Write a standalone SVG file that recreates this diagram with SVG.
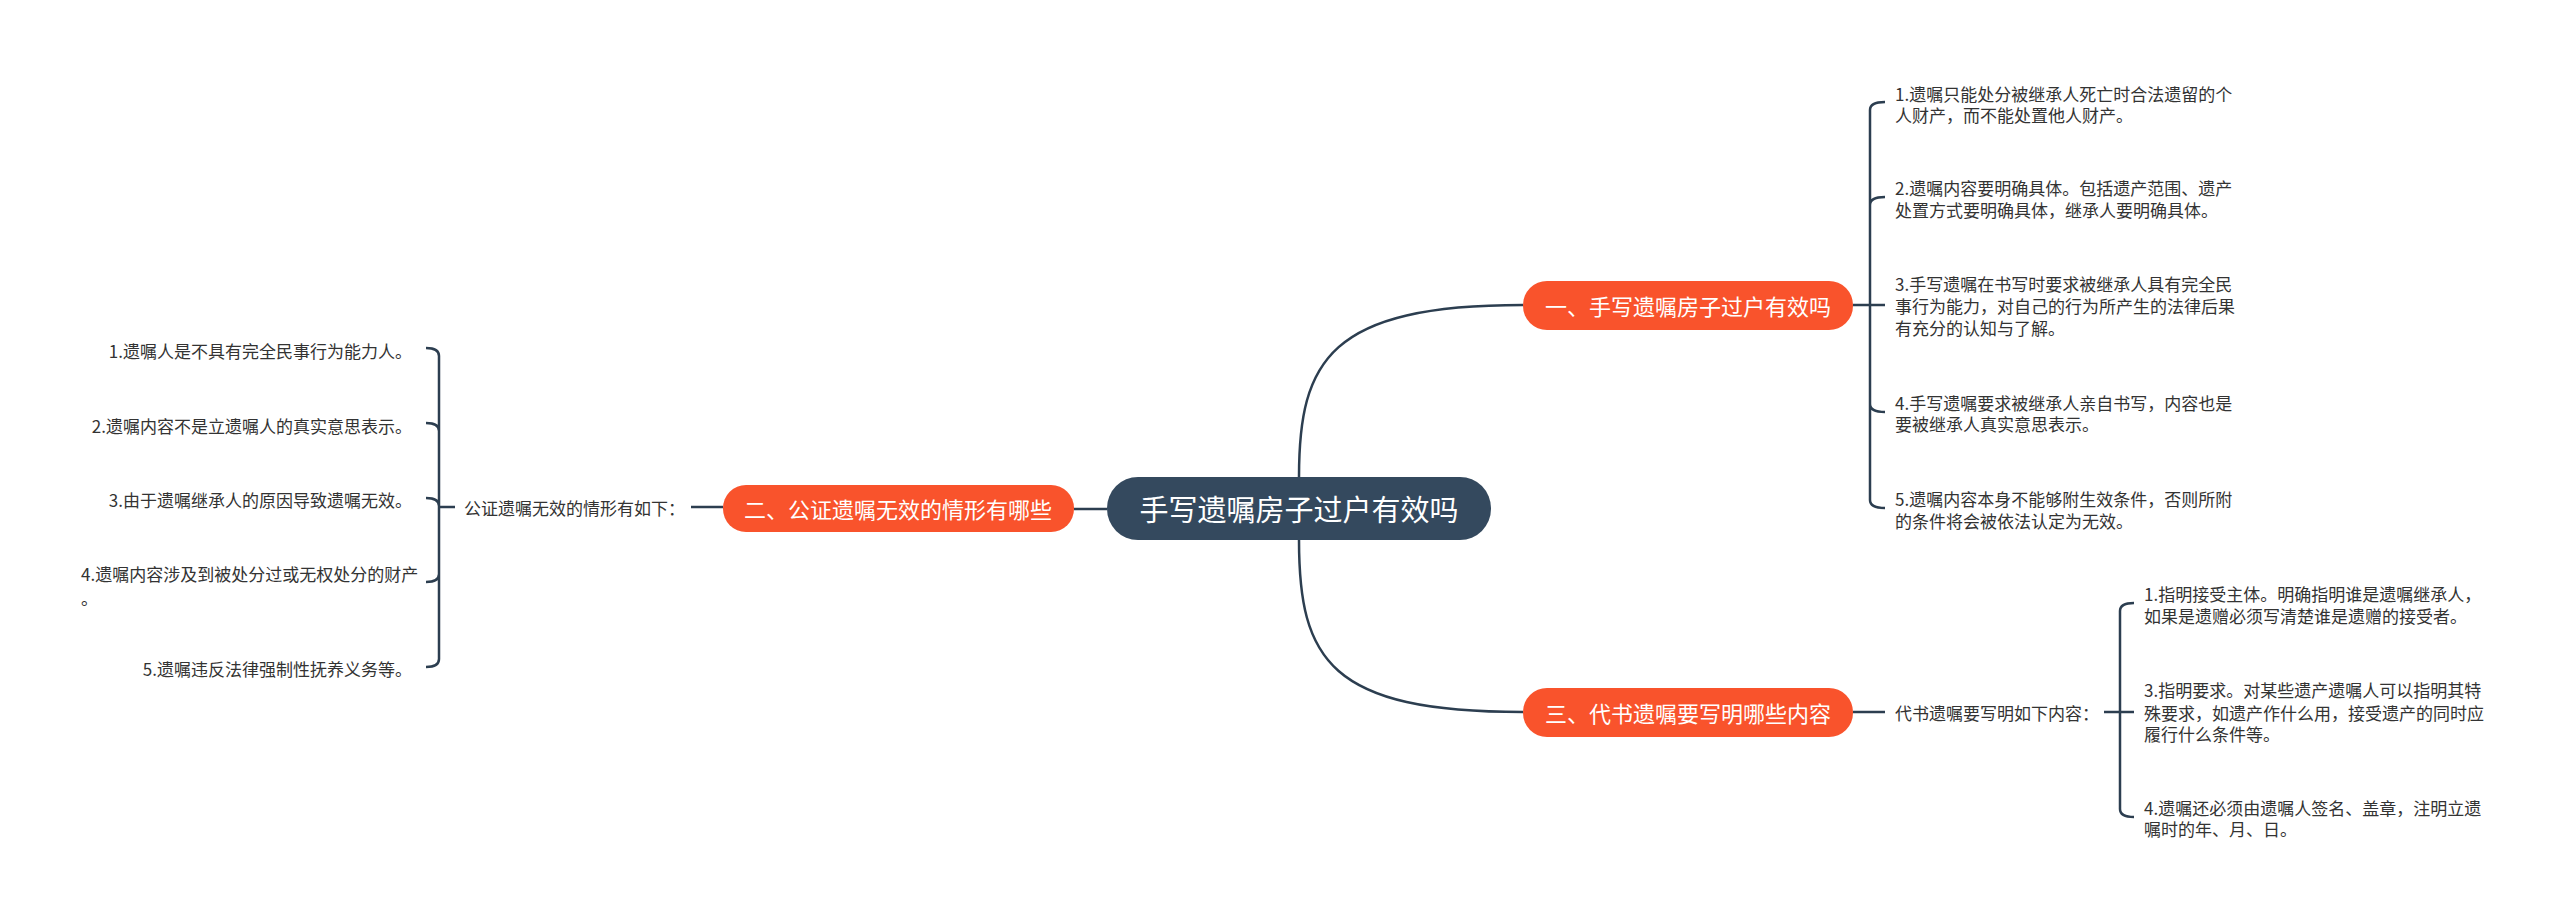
<svg xmlns="http://www.w3.org/2000/svg" width="2560" height="920" viewBox="0 0 2560 920">
<style>
text{font-family:"Noto Sans CJK SC","Liberation Sans",sans-serif;}
.t{font-size:17px;fill:#333;dominant-baseline:central;}
.b{font-size:22px;fill:#fff;dominant-baseline:central;text-anchor:middle;}
.r{font-size:29px;fill:#fff;dominant-baseline:central;text-anchor:middle;}
.c{fill:none;stroke:#2c3e50;stroke-width:2.5;}
</style>
<rect width="2560" height="920" fill="#fff"/>
<g id="connectors">
<path class="c" d="M1299 477 C1299 360 1330 305 1523 305"/>
<path class="c" d="M1299 540 C1299 660 1330 712 1523 712"/>
<path class="c" d="M1107 509 H1074"/>
<path class="c" d="M1853 305 H1870 M1870 305 V110 Q1870 102 1885 102 M1870 305 V205 Q1870 197 1885 197 M1870 305 H1885 M1870 305 V404 Q1870 412 1885 412 M1870 305 V500 Q1870 508 1885 508"/>
<path class="c" d="M1853 712 H1885 M2104 712 H2120 M2120 712 V611 Q2120 603 2134 603 M2120 712 H2134 M2120 712 V809 Q2120 817 2134 817"/>
<path class="c" d="M723 507 H691 M455 507 H439 M439 507 V356 Q439 348 426 348 M439 507 V431 Q439 423 426 423 M439 507 V506 Q439 498 426 498 M439 507 V574 Q439 582 426 582 M439 507 V659 Q439 667 426 667"/>
</g>
<g id="root"><rect x="1107" y="477" width="384" height="63" rx="31" fill="#34495e"/><text class="r" x="1299" y="508">手写遗嘱房子过户有效吗</text></g>
<g id="b1"><rect x="1523" y="281" width="330" height="49" rx="24" fill="#f9532c"/><text class="b" x="1688" y="305">一、手写遗嘱房子过户有效吗</text></g>
<g id="b2"><rect x="723" y="485" width="351" height="47" rx="23" fill="#f9532c"/><text class="b" x="898" y="508">二、公证遗嘱无效的情形有哪些</text></g>
<g id="b3"><rect x="1523" y="688" width="330" height="49" rx="24" fill="#f9532c"/><text class="b" x="1688" y="712">三、代书遗嘱要写明哪些内容</text></g>
<g id="b1c1"><text class="t" x="1895" y="93">1.遗嘱只能处分被继承人死亡时合法遗留的个</text><text class="t" x="1895" y="114">人财产，而不能处置他人财产。</text></g>
<g id="b1c2"><text class="t" x="1895" y="187">2.遗嘱内容要明确具体。包括遗产范围、遗产</text><text class="t" x="1895" y="209">处置方式要明确具体，继承人要明确具体。</text></g>
<g id="b1c3"><text class="t" x="1895" y="283">3.手写遗嘱在书写时要求被继承人具有完全民</text><text class="t" x="1895" y="305">事行为能力，对自己的行为所产生的法律后果</text><text class="t" x="1895" y="327">有充分的认知与了解。</text></g>
<g id="b1c4"><text class="t" x="1895" y="402">4.手写遗嘱要求被继承人亲自书写，内容也是</text><text class="t" x="1895" y="423">要被继承人真实意思表示。</text></g>
<g id="b1c5"><text class="t" x="1895" y="498">5.遗嘱内容本身不能够附生效条件，否则所附</text><text class="t" x="1895" y="520">的条件将会被依法认定为无效。</text></g>
<g id="b2l"><text class="t" x="464" y="507">公证遗嘱无效的情形有如下：</text></g>
<g id="b2c1"><text class="t" x="412" y="350" text-anchor="end">1.遗嘱人是不具有完全民事行为能力人。</text></g>
<g id="b2c2"><text class="t" x="412" y="425" text-anchor="end">2.遗嘱内容不是立遗嘱人的真实意思表示。</text></g>
<g id="b2c3"><text class="t" x="412" y="499" text-anchor="end">3.由于遗嘱继承人的原因导致遗嘱无效。</text></g>
<g id="b2c4"><text class="t" x="81" y="573">4.遗嘱内容涉及到被处分过或无权处分的财产</text><text class="t" x="81" y="597">。</text></g>
<g id="b2c5"><text class="t" x="412" y="668" text-anchor="end">5.遗嘱违反法律强制性抚养义务等。</text></g>
<g id="b3l"><text class="t" x="1895" y="712">代书遗嘱要写明如下内容：</text></g>
<g id="b3c1"><text class="t" x="2144" y="593">1.指明接受主体。明确指明谁是遗嘱继承人，</text><text class="t" x="2144" y="615">如果是遗赠必须写清楚谁是遗赠的接受者。</text></g>
<g id="b3c3"><text class="t" x="2144" y="689">3.指明要求。对某些遗产遗嘱人可以指明其特</text><text class="t" x="2144" y="712">殊要求，如遗产作什么用，接受遗产的同时应</text><text class="t" x="2144" y="733">履行什么条件等。</text></g>
<g id="b3c4"><text class="t" x="2144" y="807">4.遗嘱还必须由遗嘱人签名、盖章，注明立遗</text><text class="t" x="2144" y="828">嘱时的年、月、日。</text></g>
</svg>
